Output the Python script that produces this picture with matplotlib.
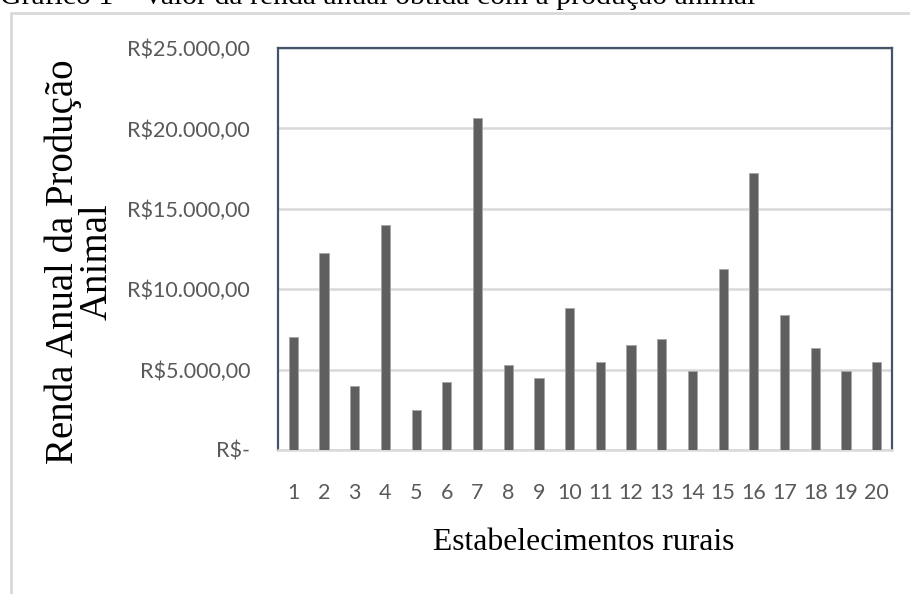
import matplotlib
matplotlib.use("Agg")
import matplotlib.pyplot as plt
from matplotlib.patches import Rectangle

categories = [str(i) for i in range(1, 21)]
values = [7050, 12250, 4000, 14000, 2500, 4200, 20650, 5300, 4500, 8800,
          5500, 6550, 6900, 4900, 11250, 17250, 8400, 6350, 4900, 5500]
yticks = [0, 5000, 10000, 15000, 20000, 25000]
ytick_labels = ["R$-", "R$5.000,00", "R$10.000,00", "R$15.000,00",
                "R$20.000,00", "R$25.000,00"]
title = "Gráfico 1 – Valor da renda anual obtida com a produção animal"
ylabel = "Renda Anual da Produção\nAnimal"
xlabel = "Estabelecimentos rurais"

W, H = 910, 594
fig = plt.figure(figsize=(W / 100, H / 100), dpi=100)
fig.patch.set_facecolor("white")

# outer chart frame (light gray), cropped by the image edges
fig.add_artist(Rectangle((11 / W, -0.1), 1.1, (H - 13) / H + 0.1,
                         transform=fig.transFigure, fill=False,
                         edgecolor="#d9d9d9", linewidth=2))

# caption, cropped at the top as in the reference
fig.text(0.0, 1 - 4 / H, title, family="Liberation Serif", fontsize=21.4,
         color="black", ha="left", va="baseline")

ax = fig.add_axes([278 / W, 144 / H, 614 / W, 402 / H])
x = list(range(len(categories)))
ax.bar(x, values, width=0.3, color="#5f5f5f", edgecolor="#a6a6a6",
       linewidth=0.6, zorder=3)
ax.set_xlim(-0.5, len(categories) - 0.5)
ax.set_ylim(0, 25000)
ax.set_yticks(yticks)
ax.set_yticklabels(ytick_labels)
ax.set_xticks(x)
ax.set_xticklabels(categories)
ax.tick_params(axis="both", length=0, labelsize=15.5, labelcolor="#595959")
ax.tick_params(axis="y", pad=20)
ax.tick_params(axis="x", pad=24)
for lab in ax.get_xticklabels() + ax.get_yticklabels():
    lab.set_family("Lato")
ax.grid(axis="y", color="#d9d9d9", linewidth=1.8, zorder=0)
for s in ["left", "top", "right"]:
    ax.spines[s].set_color("#44546a")
    ax.spines[s].set_linewidth(1.6)
ax.spines["bottom"].set_color("#d9d9d9")
ax.spines["bottom"].set_linewidth(1.8)

fig.text(584 / W, 1 - 542 / H, xlabel, family="Liberation Serif",
         fontsize=22.8, ha="center", va="center", color="black")
fig.text(80 / W, 1 - 262 / H, ylabel, family="Liberation Serif",
         fontsize=28, ha="center", va="center", rotation=90,
         multialignment="center", color="black", linespacing=0.9)

fig.savefig("out.png", dpi=100)
